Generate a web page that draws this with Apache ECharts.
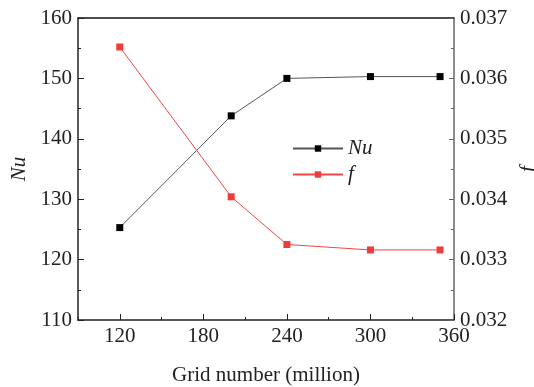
<!DOCTYPE html>
<html>
<head>
<meta charset="utf-8">
<script src="https://cdn.jsdelivr.net/npm/echarts@6/dist/echarts.min.js"></script>
<style>
  html, body { margin: 0; padding: 0; background: #fff; }
  #chart { width: 534px; height: 387px; }
</style>
</head>
<body>
<div id="chart"></div>
<script>
// grid sizes in million cells
const gridNumbers = [120, 200, 240, 300, 350];
const nuValues = [125.3, 143.8, 150.0, 150.3, 150.3];
const fValues = [0.03652, 0.03404, 0.03325, 0.03316, 0.03316];
const xMajorTicks = [120, 180, 240, 300, 360];

const serif = "Liberation Serif";
const chart = echarts.init(document.getElementById("chart"));

const labelStyle = { fontFamily: serif, fontSize: 21, color: "#222" };

chart.setOption({
  animation: false,
  grid: { left: 78, right: 80, top: 18, bottom: 67, outerBoundsMode: "none", containLabel: false },
  legend: {
    orient: "vertical",
    left: 287,
    top: 133,
    itemWidth: 50,
    itemHeight: 8,
    itemGap: 5,
    textStyle: { fontFamily: serif, fontSize: 21, fontStyle: "italic", color: "#222" },
    data: ["Nu", "f"]
  },
  xAxis: [
    {
      type: "value", min: 90, max: 360, interval: 30,
      axisLine: { lineStyle: { color: "#222", width: 1.5 } },
      axisTick: { inside: true, length: 3, lineStyle: { color: "#222" } },
      axisLabel: Object.assign({
        margin: 6,
        formatter: (v) => (v % 60 === 0 ? String(v) : "")
      }, labelStyle),
      splitLine: { show: false },
      name: "Grid number (million)",
      nameLocation: "middle",
      nameGap: 45,
      nameTextStyle: labelStyle
    },
    {
      type: "value", min: 90, max: 360, position: "bottom",
      axisLine: { show: false },
      axisTick: { inside: true, length: 6, customValues: xMajorTicks, lineStyle: { color: "#222" } },
      axisLabel: { show: false },
      splitLine: { show: false }
    },
    {
      type: "value", min: 90, max: 360, position: "top",
      axisLine: { lineStyle: { color: "#111", width: 1.5 } },
      axisTick: { show: false },
      axisLabel: { show: false },
      splitLine: { show: false }
    }
  ],
  yAxis: [
    {
      type: "value", min: 110, max: 160, interval: 10,
      axisLine: { show: true, lineStyle: { color: "#222", width: 1.5 } },
      axisTick: { show: true, inside: true, length: 6, lineStyle: { color: "#222" } },
      minorTick: { show: true, splitNumber: 2, length: 3, lineStyle: { color: "#222" } },
      axisLabel: Object.assign({ margin: 6 }, labelStyle),
      splitLine: { show: false },
      name: "Nu",
      nameLocation: "middle",
      nameGap: 47,
      nameTextStyle: Object.assign({}, labelStyle, { fontStyle: "italic" })
    },
    {
      type: "value", min: 0.032, max: 0.037, interval: 0.001, position: "right",
      axisLine: { show: true, lineStyle: { color: "#666", width: 1.5 } },
      axisTick: { show: true, inside: true, length: 5, lineStyle: { color: "#666" } },
      minorTick: { show: true, splitNumber: 2, length: 3, lineStyle: { color: "#666" } },
      axisLabel: Object.assign({ margin: 6, formatter: (v) => v.toFixed(3) }, labelStyle),
      splitLine: { show: false },
      name: "f",
      nameLocation: "middle",
      nameGap: 56,
      nameRotate: 90,
      nameTextStyle: Object.assign({}, labelStyle, { fontStyle: "italic" })
    }
  ],
  series: [
    {
      name: "Nu",
      type: "line",
      xAxisIndex: 0,
      yAxisIndex: 0,
      data: gridNumbers.map((x, i) => [x, nuValues[i]]),
      symbol: "rect",
      symbolSize: 7,
      itemStyle: { color: "#000" },
      lineStyle: { color: "#555", width: 1 }
    },
    {
      name: "f",
      type: "line",
      xAxisIndex: 0,
      yAxisIndex: 1,
      data: gridNumbers.map((x, i) => [x, fValues[i]]),
      symbol: "rect",
      symbolSize: 7,
      itemStyle: { color: "#ee3b3b" },
      lineStyle: { color: "#f04545", width: 1 }
    }
  ]
});
</script>
</body>
</html>
